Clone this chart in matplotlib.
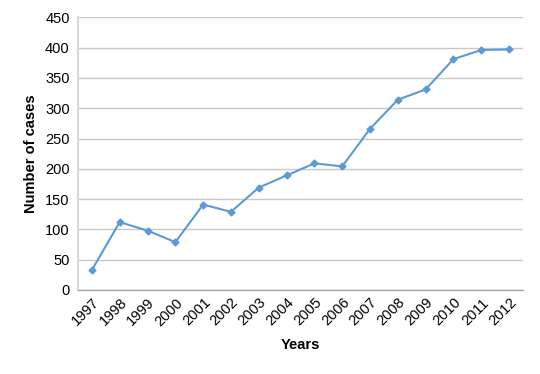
import matplotlib
matplotlib.use("Agg")
import matplotlib.pyplot as plt

plt.rcParams['font.family'] = ['Liberation Sans', 'DejaVu Sans']

years = ['1997', '1998', '1999', '2000', '2001', '2002', '2003', '2004',
         '2005', '2006', '2007', '2008', '2009', '2010', '2011', '2012']
cases = [33, 112, 98, 79, 141, 129, 169, 189,
         209, 204, 266, 314, 331, 381, 396, 397]
yticks = [0, 50, 100, 150, 200, 250, 300, 350, 400, 450]

fig = plt.figure(figsize=(5.4, 3.74), dpi=100)
ax = fig.add_axes([0.1444, 0.2246, 0.8241, 0.7291])

x = list(range(len(years)))
ax.plot(x, cases, color='#5b9bd5', linewidth=1.5, marker='D', markersize=3.5,
        markeredgecolor='#5b9bd5', markerfacecolor='#5b9bd5')

ax.set_xlim(-0.5, len(years) - 0.5)
ax.set_ylim(0, 450)
ax.set_yticks(yticks)
ax.set_xticks(x)
ax.set_xticklabels(years, rotation=45, ha='right', rotation_mode='anchor')
ax.yaxis.grid(True, color='#c8c8c8', linewidth=1)
ax.set_axisbelow(True)

for side in ['top', 'right']:
	ax.spines[side].set_visible(False)
ax.spines['left'].set_color('#d9d9d9')
ax.spines['left'].set_linewidth(1.5)
ax.spines['bottom'].set_color('#a6a6a6')
ax.spines['bottom'].set_linewidth(1)

ax.tick_params(axis='both', length=0, labelsize=10.5, colors='#000000')
ax.tick_params(axis='y', pad=6)
ax.tick_params(axis='x', pad=4)

ax.set_ylabel('Number of cases', fontsize=10.5, fontweight='bold', labelpad=5)
ax.set_xlabel('Years', fontsize=10.5, fontweight='bold', labelpad=7)

fig.savefig('out.png', dpi=100)
